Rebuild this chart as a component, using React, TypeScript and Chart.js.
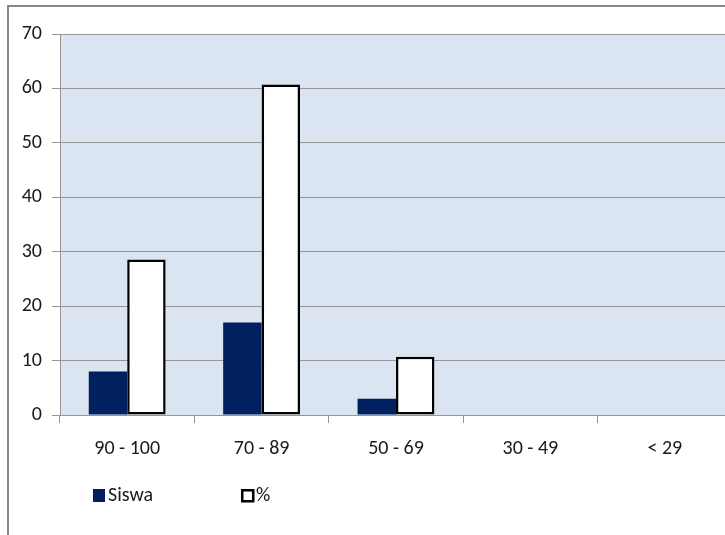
import React, { useEffect, useRef } from "react";
import { Chart, registerables } from "chart.js";

Chart.register(...registerables);

const categories = ["90 - 100", "70 - 89", "50 - 69", "30 - 49", "< 29"];
const siswaValues = [8, 17, 3, 0, 0];
const persenValues = [28.57, 60.71, 10.71, 0, 0];
const seriesLabels = ["Siswa", "%"];
const yMin = 0;
const yMax = 70;
const yStep = 10;

const FONT = "Carlito, 'Liberation Sans', Arial, sans-serif";
const FONT_SIZE = 20;
const GRID = "#959595";
const NAVY = "#002060";
const TEXT = "#1a1a1a";

const plotBg = {
  id: "plotBg",
  beforeDraw(chart: any) {
    const { ctx, chartArea } = chart;
    ctx.save();
    ctx.fillStyle = "#DBE5F1";
    ctx.fillRect(chartArea.left, chartArea.top, chartArea.right - chartArea.left, chartArea.bottom - chartArea.top);
    ctx.restore();
  },
};

const customLegend = {
  id: "customLegend",
  afterDraw(chart: any) {
    const { ctx } = chart;
    const ds = chart.data.datasets;
    ctx.save();
    ctx.font = `${FONT_SIZE}px ${FONT}`;
    ctx.textBaseline = "middle";
    ctx.textAlign = "left";
    const cy = 496;
    ctx.fillStyle = ds[0].backgroundColor;
    ctx.fillRect(93, 489, 12, 13);
    ctx.fillStyle = TEXT;
    ctx.fillText(ds[0].label, 108, cy);
    ctx.fillStyle = "#FFFFFF";
    ctx.fillRect(242, 490, 11, 11);
    ctx.strokeStyle = "#000";
    ctx.lineWidth = 2.5;
    ctx.strokeRect(242.25, 490.25, 11, 11);
    ctx.fillStyle = TEXT;
    ctx.fillText(ds[1].label, 256, cy);
    ctx.restore();
  },
};

export default function App() {
  const canvasRef = useRef<HTMLCanvasElement | null>(null);

  useEffect(() => {
    if (!canvasRef.current) return;
    const chart = new Chart(canvasRef.current, {
      type: "bar",
      data: {
        labels: categories,
        datasets: [
          {
            label: seriesLabels[0],
            data: siswaValues,
            backgroundColor: NAVY,
            borderWidth: 0,
            barPercentage: 1,
            categoryPercentage: 0.572,
          },
          {
            label: seriesLabels[1],
            data: persenValues,
            backgroundColor: "#FFFFFF",
            borderColor: "#000000",
            borderWidth: (c: any) => (c.raw > 0 ? 2.5 : 0),
            borderSkipped: false,
            barPercentage: 1,
            categoryPercentage: 0.572,
          },
        ],
      },
      options: {
        responsive: false,
        animation: false,
        layout: { padding: { left: 0, top: 34, right: 0, bottom: 75 } },
        plugins: {
          legend: { display: false },
          tooltip: { enabled: false },
          title: { display: false },
        },
        scales: {
          x: {
            offset: true,
            grid: {
              display: true,
              offset: true,
              drawOnChartArea: false,
              drawTicks: true,
              tickLength: 8,
              color: GRID,
            },
            border: { display: true, color: GRID },
            ticks: {
              color: TEXT,
              font: { family: FONT, size: FONT_SIZE },
              padding: 14,
              maxRotation: 0,
            },
            afterFit: (s: any) => {
              s.height = 45;
            },
          },
          y: {
            min: yMin,
            max: yMax,
            grid: {
              color: GRID,
              drawTicks: true,
              tickLength: 8,
            },
            border: { display: true, color: GRID },
            ticks: {
              stepSize: yStep,
              color: TEXT,
              font: { family: FONT, size: FONT_SIZE },
              padding: 10,
            },
            afterFit: (s: any) => {
              s.width = 60;
            },
          },
        },
      },
      plugins: [plotBg, customLegend],
    } as any);
    return () => chart.destroy();
  }, []);

  return (
    <div
      style={{
        position: "absolute",
        left: 0,
        top: 0,
        width: 725,
        height: 535,
        overflow: "hidden",
        background: "#FFFFFF",
      }}
    >
      <div
        style={{
          position: "absolute",
          left: 7,
          top: 5,
          width: 800,
          height: 700,
          border: "2px solid #878787",
          pointerEvents: "none",
        }}
      />
      <canvas
        ref={canvasRef}
        width={732}
        height={535}
        style={{ position: "absolute", left: 0, top: 0, display: "block" }}
      />
    </div>
  );
}
